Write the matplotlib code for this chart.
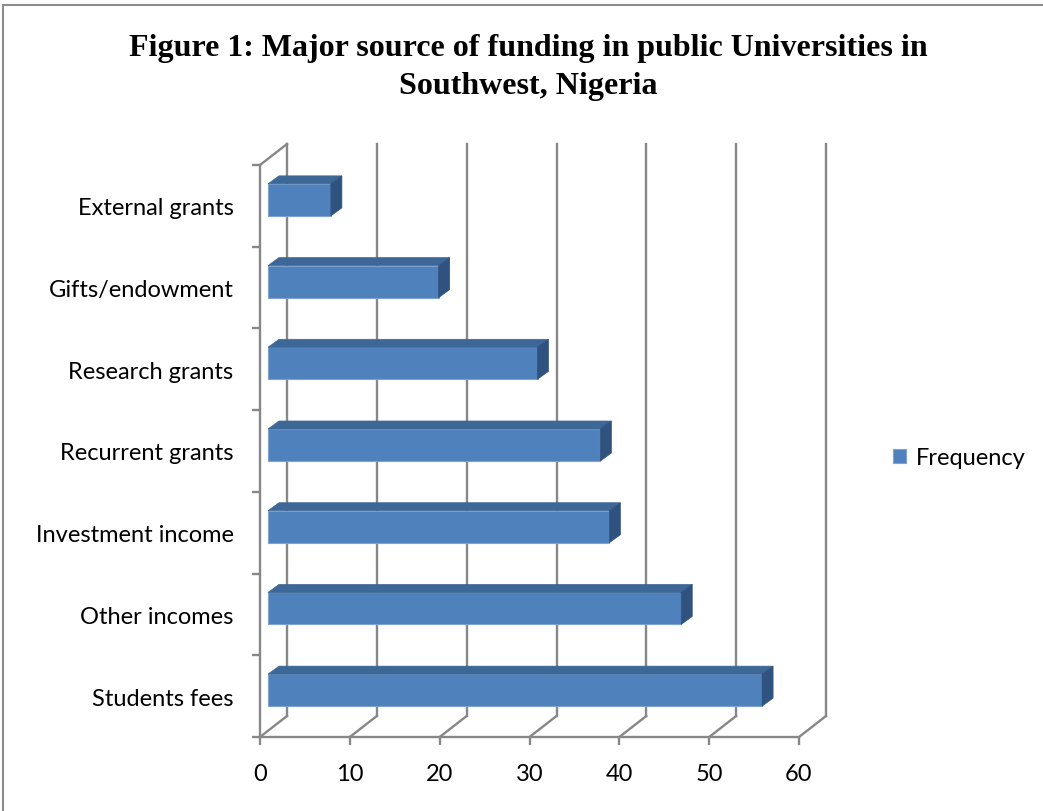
import numpy as np
import matplotlib
matplotlib.use("Agg")
import matplotlib.pyplot as plt
from matplotlib.patches import Polygon
from matplotlib.lines import Line2D

# data (bottom to top)
categories = ["Students fees", "Other incomes", "Investment income",
              "Recurrent grants", "Research grants", "Gifts/endowment",
              "External grants"]
frequency = [55, 46, 38, 37, 30, 19, 7]
xticks = [0, 10, 20, 30, 40, 50, 60]

W, H = 1043, 812
DPI = 100
fig = plt.figure(figsize=(W / DPI, H / DPI), dpi=DPI)

# front plane of the 3d box, in pixels
x0, x1 = 260, 799
y_top, y_bot = 166, 738
ax = fig.add_axes([x0 / W, 1 - y_bot / H, (x1 - x0) / W, (y_bot - y_top) / H])
ax.set_xlim(0, 60)
ax.set_ylim(-0.5, 6.5)

px_x = 60 / (x1 - x0)        # data units per pixel, x
px_y = 7 / (y_bot - y_top)   # data units per pixel, y

# depth offsets (pixels -> data)
back_dx, back_dy = 27 * px_x, 21 * px_y
f_dx, f_dy = 8 * px_x, 6 * px_y        # bar front face
b_dx, b_dy = 19 * px_x, 14 * px_y      # bar back face
bar_h = 32 * px_y

grid_col = "#878787"
lw = 1.7

# back wall gridlines + floor diagonals
for v in xticks:
    ax.add_line(Line2D([v + back_dx] * 2, [-0.5 + back_dy, 6.5 + back_dy],
                       color=grid_col, lw=lw, clip_on=False, zorder=1))
    ax.add_line(Line2D([v, v + back_dx], [-0.5, -0.5 + back_dy],
                       color=grid_col, lw=lw, clip_on=False, zorder=1))
# left wall top edge
ax.add_line(Line2D([0, back_dx], [6.5, 6.5 + back_dy],
                   color=grid_col, lw=lw, clip_on=False, zorder=1))

ypos = np.arange(len(categories))
front = "#4f81bd"
top_c = "#3d6796"
side_c = "#30527f"

bars = ax.barh(ypos + f_dy, frequency, left=f_dx, height=bar_h,
               color=front, edgecolor="#7ea3d0", linewidth=0.8,
               label="Frequency", zorder=3)

ddx, ddy = b_dx - f_dx, b_dy - f_dy
for y, v in zip(ypos, frequency):
    yb = y + f_dy - bar_h / 2
    yt = y + f_dy + bar_h / 2
    xl = f_dx
    xr = f_dx + v
    top = Polygon([(xl, yt), (xr, yt), (xr + ddx, yt + ddy), (xl + ddx, yt + ddy)],
                  closed=True, facecolor=top_c, edgecolor=top_c, lw=0.5,
                  zorder=3, clip_on=False)
    side = Polygon([(xr, yb), (xr + ddx, yb + ddy), (xr + ddx, yt + ddy), (xr, yt)],
                   closed=True, facecolor=side_c, edgecolor=side_c, lw=0.5,
                   zorder=3, clip_on=False)
    ax.add_patch(top)
    ax.add_patch(side)

# axes / ticks
for s in ["top", "right"]:
    ax.spines[s].set_visible(False)
for s in ["left", "bottom"]:
    ax.spines[s].set_color(grid_col)
    ax.spines[s].set_linewidth(lw)
    ax.spines[s].set_zorder(2)

label_font = "Lato"
fs = 17
ax.set_xticks(xticks)
ax.set_xticklabels([str(t) for t in xticks], fontsize=fs, family=label_font)
ax.tick_params(axis="x", length=6, width=lw, color=grid_col, pad=13)

ax.set_yticks(ypos)
ax.set_yticklabels(categories, fontsize=fs, family=label_font)
ax.tick_params(axis="y", which="major", length=0, pad=19)
ax.set_yticks(np.arange(-0.5, 7, 1), minor=True)
ax.tick_params(axis="y", which="minor", length=6, width=lw, color=grid_col)
ax.set_facecolor("none")

# legend
fig.legend(handles=[bars], labels=["Frequency"], loc="center left",
           bbox_to_anchor=(872 / W, 1 - 459 / H), frameon=False,
           prop={"family": label_font, "size": fs},
           handlelength=0.55, handleheight=0.55, handletextpad=0.4)

# title, two lines placed on their baselines
title_kw = dict(ha="center", va="baseline", fontsize=23, fontweight="bold",
                family="Liberation Serif")
fig.text(528 / W, 1 - 56 / H,
         "Figure 1: Major source of funding in public Universities in", **title_kw)
fig.text(528 / W, 1 - 94 / H, "Southwest, Nigeria", **title_kw)

# chart border (left and top)
fig.add_artist(Line2D([3 / W, 3 / W], [0, 1 - 6 / H], transform=fig.transFigure,
                      color="#8c8c8c", lw=1.5))
fig.add_artist(Line2D([3 / W, 1], [1 - 6 / H, 1 - 6 / H], transform=fig.transFigure,
                      color="#8c8c8c", lw=1.5))

fig.savefig("out.png", dpi=DPI)
